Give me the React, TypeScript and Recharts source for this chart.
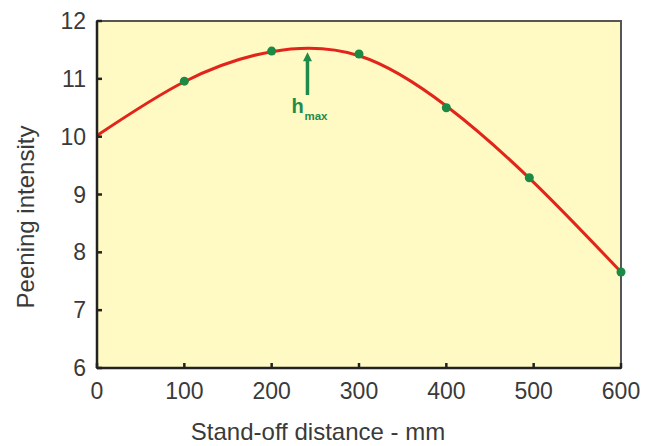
import { ComposedChart, Line, Scatter, XAxis, YAxis, ReferenceArea, ReferenceLine } from 'recharts';

const curveX = [0, 100, 200, 300, 400, 500, 600];
const curveY = [10.02, 10.95, 11.47, 11.4, 10.53, 9.21, 7.66];

const measuredX = [100, 200, 300, 400, 495, 600];
const measuredY = [10.96, 11.48, 11.43, 10.5, 9.29, 7.66];

const xTicks = [0, 100, 200, 300, 400, 500, 600];
const yTicks = [6, 7, 8, 9, 10, 11, 12];

const peakX = 241;
const arrowFrom = 10.72;
const arrowTo = 11.46;

const curveData = curveX.map((x, i) => ({ x, y: curveY[i] }));
const measuredData = measuredX.map((x, i) => ({ x, y: measuredY[i] }));

const textColor = '#3a3a3a';
const green = '#1f8a4a';
const font = '"Liberation Sans", Arial, sans-serif';

function PeakArrow(props: any) {
    const { x1, y1, x2, y2 } = props;
    return (
        <g>
            <line x1={x1} y1={y1} x2={x2} y2={y2 + 7} stroke={green} strokeWidth={3.5} />
            <polygon points={`${x2 - 4.5},${y2 + 9} ${x2 + 4.5},${y2 + 9} ${x2},${y2}`} fill={green} />
            <text x={x1 - 16} y={y1 + 18} fill={green} fontFamily={font} fontWeight="bold" fontSize={20}>
                h
            </text>
            <text x={x1 - 3} y={y1 + 25} fill={green} fontFamily={font} fontWeight="bold" fontSize={11.5}>
                max
            </text>
        </g>
    );
}

export default function App() {
    return (
        <div style={{ position: 'absolute', left: 0, top: 0, width: 640, height: 446, overflow: 'hidden' }}>
            <ComposedChart width={656} height={446} margin={{ top: 21, right: 35, bottom: 0, left: 0 }}>
                <ReferenceArea
                    x1={0}
                    x2={600}
                    y1={6}
                    y2={12}
                    fill="#fffac3"
                    fillOpacity={1}
                    stroke="#555555"
                    strokeWidth={2}
                    ifOverflow="visible"
                />
                <XAxis
                    dataKey="x"
                    type="number"
                    domain={[0, 600]}
                    ticks={xTicks}
                    height={78}
                    stroke="#222222"
                    strokeWidth={2.5}
                    tickSize={-5}
                    tickMargin={20}
                    tick={{ fill: textColor, fontSize: 23, fontFamily: font }}
                    label={{
                        content: () => (
                            <text x={318} y={440} textAnchor="middle" fill={textColor} fontSize={24} fontFamily={font}>
                                Stand-off distance - mm
                            </text>
                        ),
                    }}
                />
                <YAxis
                    type="number"
                    domain={[6, 12]}
                    ticks={yTicks}
                    width={97}
                    stroke="#222222"
                    strokeWidth={2.5}
                    tickSize={-5}
                    tickMargin={16}
                    tick={{ fill: textColor, fontSize: 23, fontFamily: font }}
                    label={{
                        content: () => (
                            <text
                                x={34}
                                y={217}
                                transform="rotate(-90 34 217)"
                                textAnchor="middle"
                                fill={textColor}
                                fontSize={24}
                                fontFamily={font}
                            >
                                Peening intensity
                            </text>
                        ),
                    }}
                />
                <Line
                    data={curveData}
                    dataKey="y"
                    type="natural"
                    stroke="#e1251b"
                    strokeWidth={3}
                    dot={false}
                    isAnimationActive={false}
                />
                <Scatter data={measuredData} dataKey="y" fill="#1b8a45" isAnimationActive={false} />
                <ReferenceLine
                    segment={[
                        { x: peakX, y: arrowFrom },
                        { x: peakX, y: arrowTo },
                    ]}
                    shape={PeakArrow}
                />
            </ComposedChart>
        </div>
    );
}
